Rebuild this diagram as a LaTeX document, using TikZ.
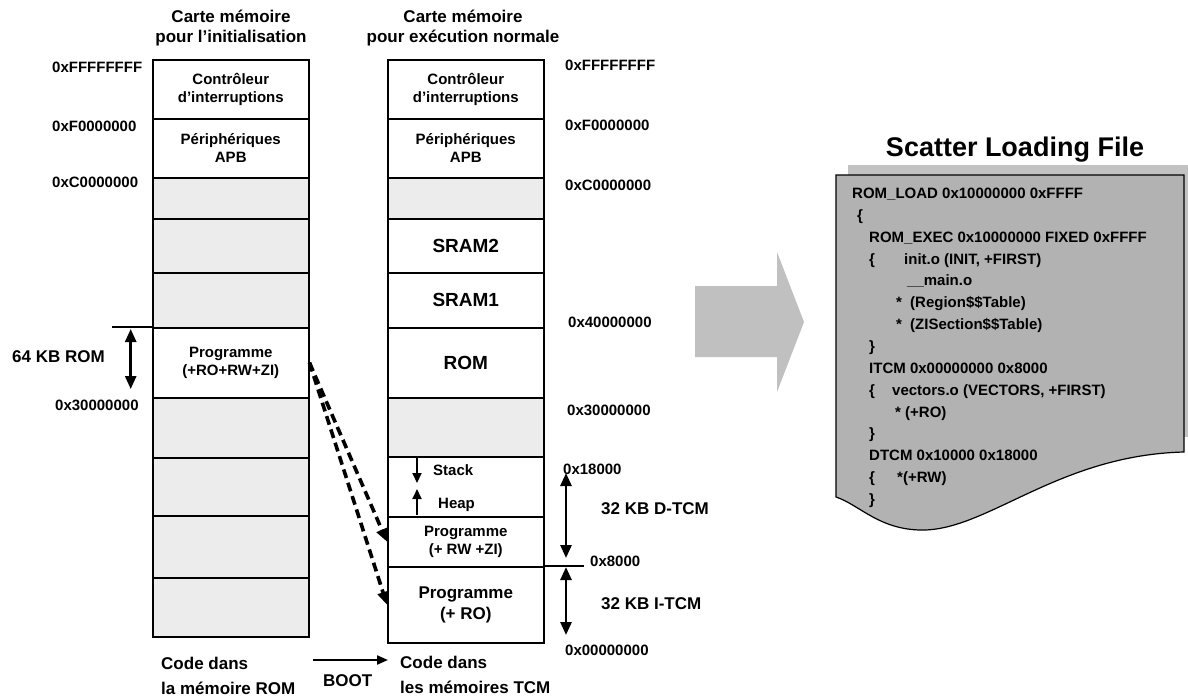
\documentclass[tikz,border=0pt]{standalone}
\usepackage{fontspec}
\setmainfont{Liberation Sans}
\usetikzlibrary{arrows.meta}
\definecolor{cellgray}{RGB}{236,236,236}
\definecolor{docgray}{RGB}{178,178,178}
\definecolor{shadowgray}{RGB}{194,194,194}
\definecolor{arrowgray}{RGB}{192,192,192}
\newcommand{\fsz}[2]{\fontsize{#1}{#2}\selectfont\bfseries}
\begin{document}
\begin{tikzpicture}[x=1pt,y=-1pt,
  cell/.style={draw, line width=1.5pt, minimum width=156pt, inner sep=0pt, anchor=north west, align=center, font=\fsz{15}{18}},
  gcell/.style={cell, fill=cellgray},
  big/.style={font=\fsz{19}{22}},
  addr/.style={anchor=west, inner sep=0pt, font=\fsz{15}{18}, text height=10.7pt, text depth=0pt},
  size/.style={anchor=west, inner sep=0pt, font=\fsz{17}{20}, text height=12.2pt, text depth=0pt},
  code/.style={anchor=west, inner sep=0pt, font=\fsz{15}{18}, text height=10.7pt, text depth=0pt},
  head/.style={align=center, inner sep=0pt, font=\fsz{17}{20}},
  dbl/.style={{Triangle[length=13pt,width=11pt]}-{Triangle[length=13pt,width=11pt]}, line width=2.6pt},
  dasharrow/.style={-{Triangle[length=13pt,width=11pt]}, line width=3.6pt, dash pattern=on 9pt off 5pt},
  small/.style={-{Triangle[length=10pt,width=9pt]}, line width=2pt},
]
\useasboundingbox (0,0) rectangle (1188,696);

% headers
\node[head] (h1) at (231,28) {Carte mémoire\\pour l’initialisation};
\node[head] (h2) at (463,28) {Carte mémoire\\pour exécution normale};

% left column
\node[cell, minimum height=59pt] (l1) at (152,59) {Contrôleur\\d’interruptions};
\node[cell, minimum height=59pt] (l2) at (152,118) {Périphériques\\APB};
\node[gcell, minimum height=41pt] (l3) at (152,177) {};
\node[gcell, minimum height=54pt] (l4) at (152,218) {};
\node[gcell, minimum height=55pt] (l5) at (152,272) {};
\node[cell, minimum height=70pt] (lprog) at (152,327) {Programme\\(+RO+RW+ZI)};
\node[gcell, minimum height=60pt] (l7) at (152,397) {};
\node[gcell, minimum height=58pt] (l8) at (152,457) {};
\node[gcell, minimum height=62pt] (l9) at (152,515) {};
\node[gcell, minimum height=59pt] (l10) at (152,577) {};

% right column
\node[cell, minimum height=59pt] (r1) at (387,59) {Contrôleur\\d’interruptions};
\node[cell, minimum height=59pt] (r2) at (387,118) {Périphériques\\APB};
\node[gcell, minimum height=41pt] (r3) at (387,177) {};
\node[cell, big, minimum height=54pt] (rs2) at (387,218) {SRAM2};
\node[cell, big, minimum height=55pt] (rs1) at (387,272) {SRAM1};
\node[cell, big, minimum height=70pt] (rrom) at (387,327) {ROM};
\node[gcell, minimum height=59pt] (r7) at (387,397) {};
\node[cell, minimum height=60pt] (rsh) at (387,456) {};
\node[cell, minimum height=50pt] (rrw) at (387,516) {Programme\\(+ RW +ZI)};
\node[cell, font=\fsz{17}{21}, minimum height=76pt] (rro) at (387,566) {Programme\\(+ RO)};

% stack / heap
\node[addr] (stack) at (433,470) {Stack};
\node[addr] (heap) at (438,503) {Heap};
\coordinate (stkA) at (417,457);
\coordinate (stkB) at (417,483);
\coordinate (hpA) at (417,515);
\coordinate (hpB) at (417,489);
\draw[small] (stkA) -- (stkB);
\draw[small] (hpA) -- (hpB);

% left addresses
\node[addr] (aL1) at (52,67) {0xFFFFFFFF};
\node[addr] (aL2) at (52,126) {0xF0000000};
\node[addr] (aL3) at (52,182) {0xC0000000};
\node[addr] (aL4) at (55,405) {0x30000000};
\node[size] (kb64) at (12,356) {64 KB ROM};
\coordinate (romline) at (112,327);
\draw[line width=1.3pt] (romline) -- (lprog.north west);
\coordinate (romA) at (130.7,329);
\coordinate (romB) at (130.7,389);
\draw[dbl] (romA) -- (romB);

% right addresses
\node[addr] (aR1) at (565,65) {0xFFFFFFFF};
\node[addr] (aR2) at (565,125) {0xF0000000};
\node[addr] (aR3) at (565,185) {0xC0000000};
\node[addr] (aR4) at (568,322) {0x40000000};
\node[addr] (aR5) at (567,410) {0x30000000};
\node[addr] (aR6) at (563,469) {0x18000};
\node[addr] (aR7) at (590,561) {0x8000};
\node[addr] (aR8) at (565,650) {0x00000000};
\node[size] (dtcm) at (601,508) {32 KB D-TCM};
\node[size] (itcm) at (601,603) {32 KB I-TCM};
\coordinate (tcmline) at (584,566);
\draw[line width=1.3pt] (rro.north east) -- (tcmline);
\coordinate (dA) at (566,473);
\coordinate (dB) at (566,558);
\coordinate (iA) at (566,567);
\coordinate (iB) at (566,635);
\draw[dbl] (dA) -- (dB);
\draw[dbl] (iA) -- (iB);

% dashed copy arrows
\draw[dasharrow] (lprog.east) -- (rrw.west);
\draw[dasharrow] (lprog.east) -- (rro.west);

% bottom
\node[size] (cd1) at (161,663) {Code dans};
\node[size] (cd2) at (161,688) {la mémoire ROM};
\node[size] (cd3) at (400,662) {Code dans};
\node[size] (cd4) at (400,687) {les mémoires TCM};
\node[size] (boot) at (323,680) {BOOT};
\coordinate (bootA) at (313,660);
\coordinate (bootB) at (388,660);
\draw[-{Triangle[length=11pt,width=9pt]}, line width=2.2pt] (bootA) -- (bootB);

% big arrow
\fill[arrowgray] (695,286) -- (777,286) -- (777,252) -- (804,322) -- (777,392) -- (777,357) -- (695,357) -- cycle;

% scatter loading file
\node[font=\fsz{27}{30}, inner sep=0pt] (title) at (1015,150) {Scatter Loading File};
\fill[shadowgray] (848,165) rectangle (1188,437);
\draw[fill=docgray, line width=1.2pt] (836,175) -- (1184,175) -- (1184,452)
  .. controls (1060,455) and (990,528) .. (925,530)
  .. controls (880,531) and (860,505) .. (836,497) -- cycle;
\node[code] (c0) at (852,193) {ROM\_LOAD 0x10000000 0xFFFF};
\node[code] (c1) at (857,215) {\{};
\node[code] (c2) at (869,237) {ROM\_EXEC 0x10000000 FIXED 0xFFFF};
\node[code] (c3a) at (869,259) {\{};
\node[code] (c3b) at (904,259) {init.o (INIT, +FIRST)};
\node[code] (c4) at (907,280) {\_\_main.o};
\node[code] (c5a) at (896,302) {*};
\node[code] (c5b) at (910,302) {(Region\$\$Table)};
\node[code] (c6a) at (896,324) {*};
\node[code] (c6b) at (910,324) {(ZISection\$\$Table)};
\node[code] (c7) at (869,346) {\}};
\node[code] (c8) at (869,368) {ITCM 0x00000000 0x8000};
\node[code] (c9a) at (869,390) {\{};
\node[code] (c9b) at (892,390) {vectors.o (VECTORS, +FIRST)};
\node[code] (c10) at (895,412) {* (+RO)};
\node[code] (c11) at (869,433) {\}};
\node[code] (c12) at (869,455) {DTCM 0x10000 0x18000};
\node[code] (c13a) at (869,477) {\{};
\node[code] (c13b) at (897,477) {*(+RW)};
\node[code] (c14) at (869,499) {\}};
\end{tikzpicture}
\end{document}
